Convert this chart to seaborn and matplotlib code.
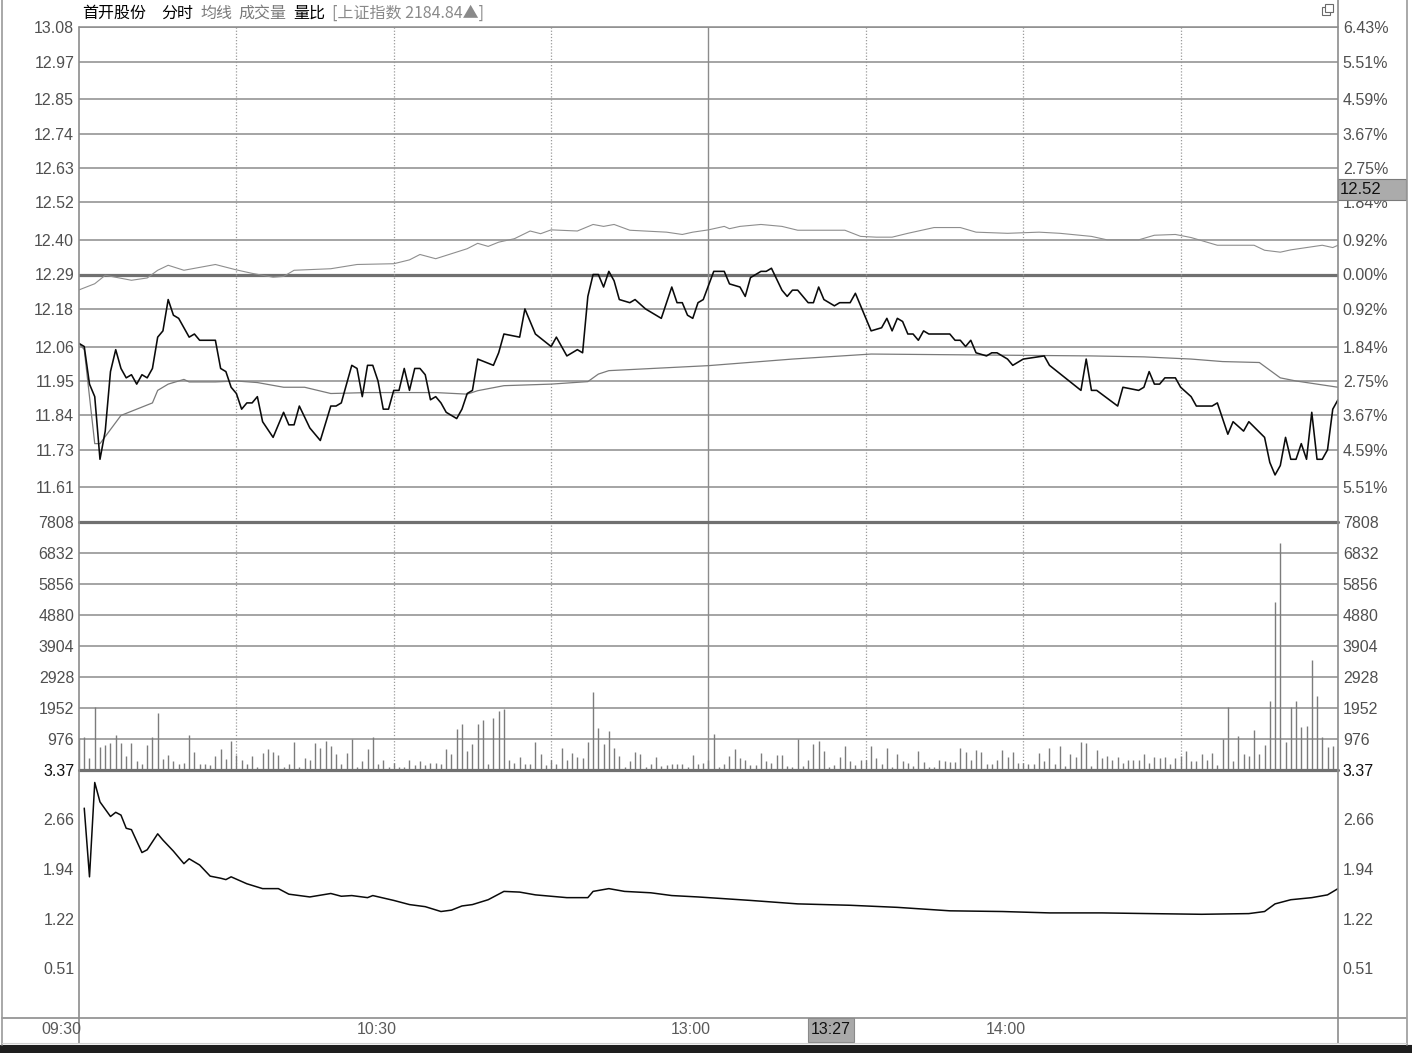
import matplotlib
matplotlib.use("Agg")
import matplotlib.pyplot as plt
import matplotlib.transforms as mtransforms
from matplotlib.lines import Line2D
from matplotlib.patches import Rectangle
import seaborn as sns

# ---------------- data (minute index 0 = 09:30, 120 = 11:30/13:00, 240 = 15:00) ----------------
pre_close = 12.29
limit_pct = 6.43

price_ticks = [13.08, 12.97, 12.85, 12.74, 12.63, 12.52, 12.40, 12.29,
               12.18, 12.06, 11.95, 11.84, 11.73, 11.61]
pct_labels = ['6.43%', '5.51%', '4.59%', '3.67%', '2.75%', '1.84%', '0.92%', '0.00%',
              '0.92%', '1.84%', '2.75%', '3.67%', '4.59%', '5.51%']
vol_ticks = [976, 1952, 2928, 3904, 4880, 5856, 6832, 7808]
ratio_ticks = [3.37, 2.66, 1.94, 1.22, 0.51]
time_ticks = [0, 60, 120, 180]
time_labels = ['09:30', '10:30', '13:00', '14:00']
cursor_time = '13:27'
cursor_price = '12.52'

price_min = [0, 1, 2, 3, 4, 5, 6, 7, 8, 9,
             10, 11, 12, 13, 14, 15, 16, 17, 18, 19,
             21, 22, 23, 26, 27, 28, 29, 30, 31, 32,
             33, 34, 35, 37, 39, 40, 41, 42, 44, 46,
             48, 49, 50, 52, 53, 54, 55, 56, 57, 58,
             59, 60, 61, 62, 63, 64, 65, 66, 67, 68,
             69, 70, 72, 73, 74, 75, 76, 79, 80, 81,
             84, 85, 87, 90, 91, 93, 95, 96, 97, 98,
             99, 100, 101, 102, 103, 105, 106, 108, 111, 113,
             114, 115, 116, 117, 118, 119, 121, 123, 124, 126,
             127, 128, 130, 131, 132, 134, 135, 136, 137, 139,
             140, 141, 142, 144, 145, 147, 148, 149, 151, 153,
             154, 155, 156, 157, 158, 159, 160, 161, 162, 166,
             167, 168, 169, 170, 171, 173, 174, 175, 177, 178,
             180, 184, 185, 188, 191, 192, 193, 194, 198, 199,
             202, 203, 204, 205, 206, 207, 209, 210, 212, 213,
             216, 217, 219, 220, 222, 223, 226, 227, 228, 229,
             230, 231, 232, 233, 234, 235, 236, 237, 238, 239,
             240]
price_val = [12.07, 12.06, 11.94, 11.90, 11.70, 11.79, 11.98, 12.05, 11.99, 11.96,
             11.97, 11.94, 11.97, 11.96, 11.99, 12.09, 12.11, 12.21, 12.16, 12.15,
             12.09, 12.10, 12.08, 12.08, 11.99, 11.98, 11.93, 11.91, 11.86, 11.88,
             11.88, 11.90, 11.82, 11.77, 11.85, 11.81, 11.81, 11.87, 11.80, 11.76,
             11.87, 11.87, 11.88, 12.00, 11.99, 11.90, 12.00, 12.00, 11.95, 11.86,
             11.86, 11.92, 11.92, 11.99, 11.92, 11.99, 11.99, 11.97, 11.89, 11.90,
             11.88, 11.85, 11.83, 11.86, 11.91, 11.92, 12.02, 12.00, 12.04, 12.10,
             12.09, 12.18, 12.10, 12.06, 12.09, 12.03, 12.05, 12.04, 12.22, 12.29,
             12.29, 12.25, 12.30, 12.27, 12.21, 12.20, 12.21, 12.18, 12.15, 12.25,
             12.20, 12.20, 12.16, 12.15, 12.20, 12.21, 12.30, 12.30, 12.26, 12.25,
             12.22, 12.28, 12.30, 12.30, 12.31, 12.24, 12.22, 12.24, 12.24, 12.20,
             12.20, 12.25, 12.21, 12.19, 12.20, 12.20, 12.23, 12.19, 12.11, 12.12,
             12.15, 12.11, 12.15, 12.14, 12.10, 12.10, 12.08, 12.11, 12.10, 12.10,
             12.08, 12.08, 12.06, 12.08, 12.04, 12.03, 12.04, 12.04, 12.02, 12.00,
             12.02, 12.03, 12.00, 11.96, 11.92, 12.02, 11.92, 11.92, 11.87, 11.93,
             11.92, 11.93, 11.98, 11.94, 11.94, 11.96, 11.96, 11.93, 11.90, 11.87,
             11.87, 11.88, 11.78, 11.82, 11.79, 11.82, 11.77, 11.69, 11.65, 11.68,
             11.77, 11.70, 11.70, 11.75, 11.70, 11.85, 11.70, 11.70, 11.73, 11.86,
             11.89]

avg_min = [0, 1, 3, 4, 8, 11, 14, 15, 17, 20,
           21, 26, 30, 34, 39, 43, 48, 55, 68, 74,
           76, 81, 90, 97, 99, 101, 120, 136, 151, 193,
           203, 212, 218, 225, 229, 232, 240]
avg_val = [12.07, 12.05, 11.75, 11.75, 11.84, 11.86, 11.88, 11.92, 11.94, 11.955,
           11.947, 11.947, 11.95, 11.945, 11.93, 11.93, 11.91, 11.913, 11.913, 11.908,
           11.919, 11.935, 11.94, 11.948, 11.972, 11.983, 11.999, 12.02, 12.036, 12.03,
           12.027, 12.02, 12.012, 12.009, 11.96, 11.95, 11.93]

# Shanghai index overlay, % change vs its previous close
index_min = [0, 3, 5, 10, 13, 15, 17, 20, 26, 30,
             33, 37, 39, 41, 48, 53, 60, 63, 65, 68,
             71, 74, 76, 78, 80, 83, 86, 88, 90, 95,
             98, 100, 102, 105, 112, 115, 117, 120, 123, 124,
             126, 130, 134, 137, 146, 149, 152, 155, 158, 163,
             168, 171, 177, 183, 187, 193, 196, 202, 205, 209,
             212, 217, 224, 226, 229, 231, 237, 239, 240]
index_pct = [-0.40, -0.24, -0.02, -0.15, -0.09, 0.11, 0.24, 0.11, 0.26, 0.12,
             0.03, -0.07, -0.05, 0.11, 0.15, 0.26, 0.28, 0.38, 0.52, 0.41,
             0.54, 0.67, 0.81, 0.73, 0.84, 0.93, 1.13, 1.06, 1.16, 1.13,
             1.30, 1.25, 1.30, 1.15, 1.10, 1.04, 1.10, 1.16, 1.25, 1.19,
             1.25, 1.30, 1.25, 1.15, 1.15, 0.99, 0.97, 0.97, 1.07, 1.22,
             1.22, 1.10, 1.07, 1.10, 1.07, 0.99, 0.90, 0.90, 1.02, 1.04,
             0.96, 0.76, 0.76, 0.63, 0.58, 0.64, 0.76, 0.70, 0.76]

volume = [1000, 1029, 368, 1995, 714, 788, 840, 1092, 840, 441,
          840, 284, 189, 788, 1029, 1785, 347, 483, 273, 179,
          231, 1092, 578, 179, 179, 147, 441, 662, 357, 924,
          473, 315, 189, 441, 105, 536, 662, 578, 483, 105,
          189, 882, 105, 368, 315, 840, 704, 924, 756, 504,
          189, 546, 966, 84, 284, 662, 1029, 189, 315, 84,
          210, 84, 84, 315, 147, 284, 158, 231, 231, 189,
          662, 504, 1281, 1449, 609, 809, 1449, 1575, 189, 1628,
          1869, 1911, 315, 231, 399, 189, 189, 882, 504, 147,
          315, 189, 704, 315, 546, 399, 368, 882, 2468, 1313,
          809, 1229, 704, 441, 84, 284, 578, 504, 84, 189,
          399, 126, 158, 179, 179, 179, 105, 473, 189, 231,
          300, 1134, 84, 189, 441, 662, 368, 315, 158, 158,
          546, 284, 231, 483, 483, 126, 84, 966, 126, 315,
          819, 924, 609, 84, 147, 399, 756, 273, 158, 315,
          315, 756, 368, 189, 704, 84, 504, 284, 210, 126,
          609, 263, 84, 105, 315, 284, 263, 263, 683, 578,
          315, 630, 578, 189, 189, 315, 630, 399, 578, 231,
          231, 189, 189, 546, 294, 704, 189, 756, 126, 504,
          399, 882, 861, 126, 630, 368, 441, 315, 399, 231,
          315, 315, 315, 504, 231, 399, 368, 399, 189, 368,
          441, 609, 284, 284, 504, 315, 546, 158, 966, 1973,
          284, 1080, 504, 441, 1259, 504, 777, 2172, 5298, 7136,
          872, 1973, 2172, 1344, 1385, 3463, 2340, 1029, 734, 756,
          700]

ratio_min = [1, 2, 3, 4, 6, 7, 8, 9, 10, 12,
             13, 15, 16, 18, 20, 21, 23, 25, 27, 28,
             29, 32, 35, 38, 40, 44, 48, 50, 52, 55,
             56, 60, 63, 66, 69, 71, 73, 75, 78, 81,
             84, 87, 90, 93, 97, 98, 101, 104, 109, 113,
             118, 128, 137, 147, 156, 166, 176, 185, 195, 204,
             214, 223, 226, 228, 231, 235, 238, 240]
ratio_val = [2.82, 1.83, 3.19, 2.91, 2.70, 2.76, 2.72, 2.53, 2.51, 2.18,
             2.22, 2.45, 2.36, 2.20, 2.02, 2.09, 2.00, 1.84, 1.81, 1.79,
             1.83, 1.73, 1.66, 1.66, 1.58, 1.54, 1.59, 1.55, 1.56, 1.53,
             1.56, 1.49, 1.43, 1.40, 1.33, 1.35, 1.41, 1.43, 1.50, 1.62,
             1.61, 1.57, 1.55, 1.53, 1.53, 1.62, 1.66, 1.62, 1.60, 1.56,
             1.54, 1.49, 1.44, 1.42, 1.39, 1.34, 1.33, 1.31, 1.31, 1.30,
             1.29, 1.30, 1.33, 1.44, 1.50, 1.53, 1.57, 1.66]

# ---------------- style ----------------
sns.set_theme(style="white")
plt.rcParams['font.family'] = ['Liberation Sans', 'Noto Sans CJK SC', 'DejaVu Sans']

W, H = 1412, 1053
GRID = '#8c8c8c'
LABEL = '#505050'
FS = 11.5

fig = plt.figure(figsize=(W / 100, H / 100), dpi=100, facecolor='white')


def px_axes(x0, y0, x1, y1):
    return fig.add_axes([x0 / W, 1 - y1 / H, (x1 - x0) / W, (y1 - y0) / H])


def fig_line(x0, y0, x1, y1, color=GRID, lw=1.0, ls='-'):
    fig.add_artist(Line2D([x0 / W, x1 / W], [1 - y0 / H, 1 - y1 / H],
                          transform=fig.transFigure, color=color, lw=lw, ls=ls))


def fig_box(x0, y0, x1, y1, face, edge='#6a6a6a'):
    fig.add_artist(Rectangle((x0 / W, 1 - y1 / H), (x1 - x0) / W, (y1 - y0) / H,
                             transform=fig.transFigure, facecolor=face,
                             edgecolor=edge, lw=0.8))


def clean(ax):
    ax.set_xlim(0, 240)
    ax.set_xticks([])
    ax.set_xlabel('')
    ax.set_ylabel('')
    ax.set_facecolor('white')
    for s in ax.spines.values():
        s.set_visible(False)
    ax.tick_params(axis='y', length=0, labelsize=FS, labelcolor=LABEL, pad=3.5)


def vgrid(ax):
    for m in [30, 60, 90, 150, 180, 210]:
        ax.axvline(m, color='#9a9a9a', lw=0.9, ls=(0, (1, 1.5)), zorder=1)
    ax.axvline(120, color=GRID, lw=1.0, zorder=1)


# ---------------- price panel ----------------
ax_p = px_axes(79, 27, 1338, 522)
lo, hi = pre_close * (1 - limit_pct / 100), pre_close * (1 + limit_pct / 100)
for v in price_ticks:
    ax_p.axhline(v, color=GRID, lw=1.1, zorder=1)
ax_p.axhline(pre_close, color='#707070', lw=2.3, zorder=1)
vgrid(ax_p)

index_price = [pre_close * (1 + p / 100) for p in index_pct]
sns.lineplot(x=index_min, y=index_price, ax=ax_p, color='#8e8e8e', linewidth=0.8,
             estimator=None, sort=False, legend=False, zorder=2)
sns.lineplot(x=avg_min, y=avg_val, ax=ax_p, color='#7a7a7a', linewidth=0.9,
             estimator=None, sort=False, legend=False, zorder=3)
sns.lineplot(x=price_min, y=price_val, ax=ax_p, color='#0a0a0a', linewidth=1.15,
             estimator=None, sort=False, legend=False, zorder=4)
clean(ax_p)
ax_p.set_ylim(lo, hi)
ax_p.set_yticks(price_ticks)
ax_p.set_yticklabels([f'{v:.2f}' for v in price_ticks])

ax_p2 = ax_p.twinx()
ax_p2.set_ylim(lo, hi)
ax_p2.set_yticks(price_ticks)
ax_p2.set_yticklabels(pct_labels)
for s in ax_p2.spines.values():
    s.set_visible(False)
ax_p2.tick_params(axis='y', length=0, labelsize=FS, labelcolor=LABEL, pad=3.5)

# ---------------- volume panel ----------------
ax_v = px_axes(79, 522, 1338, 770)
for v in vol_ticks[:-1]:
    ax_v.axhline(v, color=GRID, lw=1.1, zorder=1)
vgrid(ax_v)
ax_v.vlines(list(range(len(volume))), 0, volume, color='#7c7c7c', lw=1.0, zorder=2)
clean(ax_v)
ax_v.set_ylim(0, 7808)
ax_v.set_yticks(vol_ticks)
ax_v.set_yticklabels([str(v) for v in vol_ticks])
ax_v.yaxis.set_ticks_position('both')
ax_v.tick_params(axis='y', labelleft=True, labelright=True)

# ---------------- volume ratio panel ----------------
ax_r = px_axes(79, 770, 1338, 1018)
sns.lineplot(x=ratio_min, y=ratio_val, ax=ax_r, color='#0a0a0a', linewidth=1.1,
             estimator=None, sort=False, legend=False, zorder=3)
clean(ax_r)
ax_r.set_ylim(-0.205, 3.37)
ax_r.set_yticks(ratio_ticks)
ax_r.set_yticklabels([f'{v:.2f}' for v in ratio_ticks])
ax_r.yaxis.set_ticks_position('both')
ax_r.tick_params(axis='y', labelleft=True, labelright=True)
top_tick = ax_r.yaxis.get_major_ticks()[0]
top_tick.label1.set_color('#111111')
top_tick.label2.set_color('#111111')

# ---------------- frame lines ----------------
fig_line(79, 27, 1338, 27, lw=1.1)
fig_line(79, 522, 1338, 522, color='#707070', lw=2.3)
fig_line(79, 770, 1338, 770, color='#707070', lw=2.3)
fig_line(79, 27, 79, 1043, lw=1.2)
fig_line(1338, 0, 1338, 1043, lw=1.2)
fig_line(2, 1018, 1406, 1018, lw=1.2)
fig_line(1.5, 0, 1.5, 1045, color='#9a9a9a', lw=1.2)
fig_line(1407, 0, 1407, 1045, color='#9a9a9a', lw=1.2)
fig_line(2, 1043, 1406, 1043, color='#d0d0d0', lw=0.8)
fig_box(0, 1045, W, H, '#1e1e1e', edge='#1e1e1e')

# ---------------- time axis ----------------
tr = mtransforms.blended_transform_factory(ax_r.transData, fig.transFigure)
for m, lab in zip(time_ticks, time_labels):
    fig.text(m + 0.5, 1 - 1030 / H, lab, transform=tr, ha='right', va='center',
             fontsize=FS, color='#5a5a5a')
fig_box(808, 1018, 854, 1042, '#a9a9a9', edge='#8a8a8a')
fig.text(831 / W, 1 - 1030 / H, cursor_time, ha='center', va='center',
         fontsize=FS, color='#111111')

# cursor price tag on right axis
fig_box(1338, 179, 1406, 200, '#ababab', edge='#7a7a7a')
fig.text(1340 / W, 1 - 190 / H, cursor_price, ha='left', va='center',
         fontsize=FS + 0.5, color='#111111')

# ---------------- header ----------------
header = [('首开股份', 82, '#000000'), ('分时', 161, '#000000'), ('均线', 200, '#7a7a7a'),
          ('成交量', 238, '#7a7a7a'), ('量比', 293, '#000000'),
          ('[上证指数 2184.84▲]', 332, '#8a8a8a')]
for txt, x, col in header:
    fig.text(x / W, 1 - 13 / H, txt, ha='left', va='center', fontsize=11.5,
             color=col, family=['Noto Sans CJK SC', 'DejaVu Sans'])

# restore-window icon
fig_box(1322, 7, 1330, 15, 'white', edge='#6a6a6a')
fig_box(1325, 4, 1333, 12, 'white', edge='#6a6a6a')

fig.savefig('out.png', dpi=100, facecolor='white')
